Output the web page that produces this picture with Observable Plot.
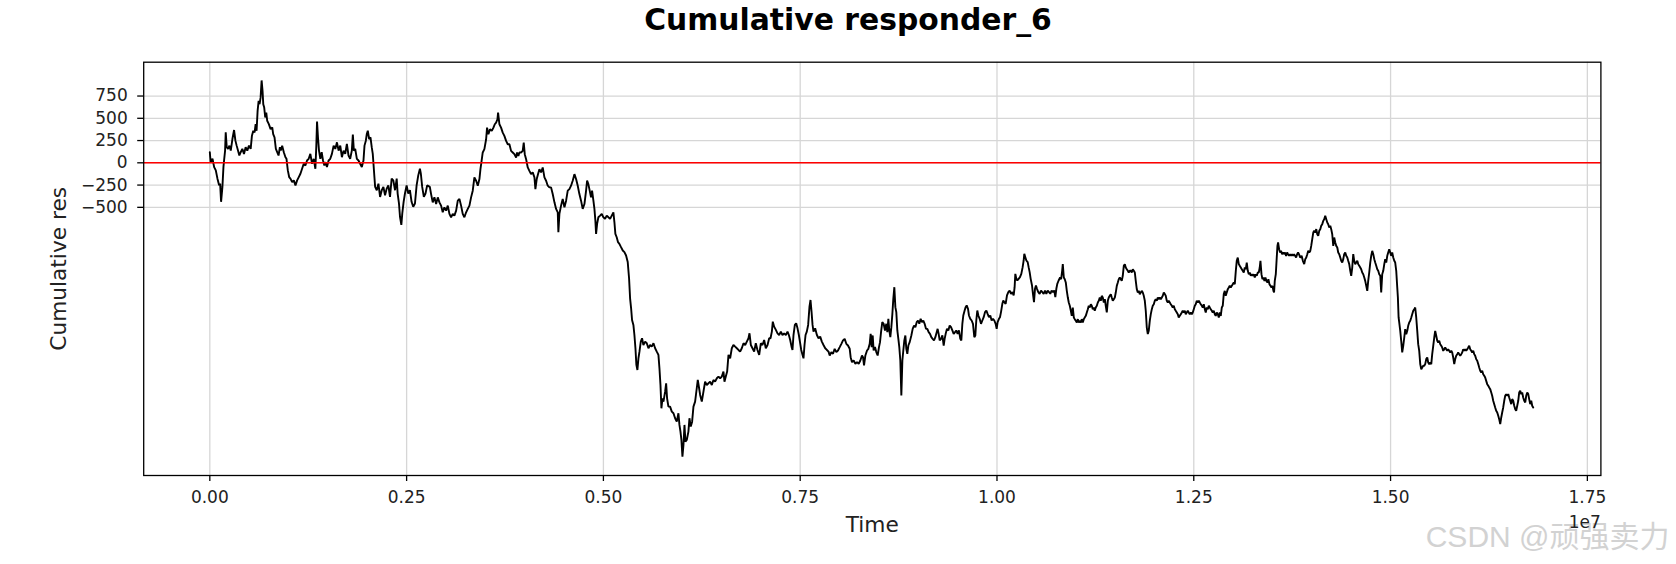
<!DOCTYPE html>
<html><head><meta charset="utf-8">
<script src="https://cdn.jsdelivr.net/npm/d3@7"></script>
<script src="https://cdn.jsdelivr.net/npm/@observablehq/plot@0.6"></script>
<style>
html,body{margin:0;padding:0;background:#fff;}
#title{width:1656px;padding-left:20px;height:40px;line-height:40px;text-align:center;font-weight:bold;font-size:29.8px;font-family:"DejaVu Sans";color:#000;white-space:nowrap;}
#chart svg{display:block;}
</style></head><body>
<div id="title">Cumulative responder_6</div>
<div id="chart"></div>
<script>
// Time in units of 1e7, cumulative responder_6 value
const points = [
[0.000,119],[0.001,7],[0.0034,45],[0.0055,-48],[0.0076,-85],[0.0097,-178],[0.0118,-253],[0.0131,-234],[0.0143,-438],[0.0160,-271],[0.0173,-48],[0.0181,26],[0.0194,137],[0.0202,342],[0.0215,175],[0.0232,156],[0.0249,193],[0.0266,137],[0.0287,267],[0.0308,368],[0.0325,249],[0.0341,193],[0.0358,137],[0.0375,82],[0.0392,119],[0.0413,156],[0.0434,100],[0.0455,175],[0.0476,137],[0.0497,193],[0.0519,156],[0.0535,305],[0.0552,360],[0.0569,342],[0.0582,435],[0.0594,360],[0.0607,583],[0.0620,695],[0.0632,658],[0.0645,732],[0.0658,925],[0.0670,806],[0.0679,658],[0.0691,620],[0.0704,509],[0.0717,565],[0.0729,472],[0.0750,435],[0.0772,379],[0.0793,398],[0.0805,323],[0.0822,286],[0.0839,156],[0.0856,119],[0.0873,82],[0.0890,175],[0.0902,137],[0.0919,193],[0.0940,119],[0.0961,63],[0.0974,45],[0.0991,-85],[0.1008,-160],[0.1024,-178],[0.1046,-215],[0.1067,-197],[0.1088,-253],[0.1109,-197],[0.1130,-160],[0.1151,-123],[0.1172,-67],[0.1193,-11],[0.1214,-30],[0.1235,26],[0.1256,45],[0.1277,100],[0.1299,-11],[0.1320,45],[0.1341,-67],[0.1353,193],[0.1362,464],[0.1374,286],[0.1387,137],[0.1404,45],[0.1421,119],[0.1438,26],[0.1455,-30],[0.1471,7],[0.1488,-48],[0.1509,26],[0.1530,45],[0.1551,100],[0.1573,193],[0.1594,156],[0.1615,230],[0.1636,137],[0.1657,193],[0.1678,63],[0.1699,137],[0.1720,100],[0.1741,212],[0.1762,82],[0.1783,45],[0.1804,137],[0.1817,316],[0.1830,137],[0.1847,156],[0.1868,45],[0.1889,26],[0.1910,-11],[0.1931,-48],[0.1952,26],[0.1965,193],[0.1982,249],[0.1994,323],[0.2007,360],[0.2024,267],[0.2041,286],[0.2057,175],[0.2070,100],[0.2079,-11],[0.2091,-160],[0.2100,-271],[0.2121,-308],[0.2142,-234],[0.2163,-383],[0.2184,-308],[0.2205,-271],[0.2226,-364],[0.2247,-290],[0.2268,-253],[0.2289,-383],[0.2310,-178],[0.2331,-197],[0.2353,-308],[0.2374,-178],[0.2386,-345],[0.2403,-457],[0.2416,-606],[0.2433,-698],[0.2445,-568],[0.2462,-438],[0.2479,-345],[0.2500,-253],[0.2521,-345],[0.2542,-308],[0.2563,-438],[0.2584,-494],[0.2606,-457],[0.2627,-253],[0.2648,-141],[0.2669,-67],[0.2681,-123],[0.2698,-271],[0.2719,-383],[0.2740,-345],[0.2761,-253],[0.2795,-271],
[0.2811,-351],[0.2832,-444],[0.2853,-388],[0.2875,-463],[0.2896,-388],[0.2917,-444],[0.2938,-481],[0.2959,-556],[0.2980,-500],[0.3002,-537],[0.3023,-481],[0.3044,-574],[0.3065,-612],[0.3086,-574],[0.3107,-593],[0.3129,-537],[0.3150,-425],[0.3171,-407],[0.3192,-481],[0.3213,-574],[0.3234,-612],[0.3256,-556],[0.3277,-518],[0.3298,-481],[0.3319,-388],[0.3340,-313],[0.3361,-164],[0.3383,-201],[0.3404,-257],[0.3425,-183],[0.3438,-71],[0.3450,4],[0.3467,116],[0.3488,153],[0.3510,265],[0.3522,395],[0.3539,321],[0.3560,377],[0.3582,358],[0.3603,395],[0.3620,433],[0.3637,451],[0.3654,489],[0.3662,563],[0.3679,433],[0.3700,395],[0.3721,339],[0.3742,302],[0.3764,246],[0.3785,209],[0.3806,209],[0.3827,134],[0.3848,116],[0.3869,97],[0.3891,60],[0.3903,116],[0.3920,78],[0.3933,116],[0.3954,116],[0.3975,134],[0.3988,228],[0.4001,97],[0.4018,41],[0.4039,-52],[0.4060,-90],[0.4081,-127],[0.4102,-108],[0.4124,-164],[0.4136,-295],[0.4153,-183],[0.4170,-127],[0.4187,-71],[0.4208,-108],[0.4229,-52],[0.4251,-164],[0.4272,-201],[0.4293,-257],[0.4314,-276],[0.4335,-276],[0.4356,-351],[0.4378,-444],[0.4399,-518],[0.4420,-556],[0.4428,-780],[0.4441,-574],[0.4462,-481],[0.4483,-407],[0.4505,-500],[0.4526,-425],[0.4547,-313],[0.4568,-295],[0.4589,-257],[0.4610,-201],[0.4632,-127],[0.4653,-183],[0.4674,-257],[0.4695,-351],[0.4716,-425],[0.4737,-518],[0.4759,-463],[0.4780,-313],[0.4793,-201],[0.4809,-239],[0.4822,-295],[0.4843,-388],[0.4856,-313],[0.4873,-425],[0.4886,-518],[0.4898,-649],[0.4907,-798],[0.4920,-686],[0.4936,-612],[0.4958,-593],[0.4979,-574],[0.5000,-612],[0.5021,-630],[0.5042,-593],[0.5064,-612],[0.5085,-630],[0.5106,-593],[0.5127,-556],[0.5140,-668],[0.5152,-798],[0.5169,-836],[0.5186,-891],[0.5203,-910],[0.5224,-947],[0.5246,-985],[0.5267,-1003],[0.5288,-1041],[0.5309,-1115],
[0.5326,-1297],[0.5339,-1522],[0.5352,-1634],[0.5364,-1765],[0.5381,-1821],[0.5394,-1934],[0.5407,-2083],[0.5419,-2270],[0.5432,-2327],[0.5445,-2196],[0.5458,-2121],[0.5475,-2008],[0.5491,-1971],[0.5508,-2046],[0.5530,-2008],[0.5551,-2027],[0.5572,-2083],[0.5593,-2046],[0.5614,-2065],[0.5636,-2027],[0.5657,-2083],[0.5678,-2121],[0.5699,-2158],[0.5712,-2308],[0.5725,-2495],[0.5737,-2757],[0.5750,-2645],[0.5763,-2682],[0.5784,-2570],[0.5797,-2476],[0.5809,-2645],[0.5826,-2738],[0.5847,-2738],[0.5869,-2794],[0.5890,-2813],[0.5911,-2869],[0.5932,-2907],[0.5953,-2813],[0.5966,-2944],[0.5979,-3019],[0.5991,-3113],[0.6004,-3300],[0.6017,-3169],[0.6030,-2944],[0.6042,-3131],[0.6059,-3113],[0.6080,-3019],[0.6093,-2869],[0.6110,-2963],[0.6127,-2907],[0.6144,-2738],[0.6165,-2682],[0.6186,-2532],[0.6199,-2439],[0.6216,-2532],[0.6229,-2607],[0.6250,-2682],[0.6271,-2570],[0.6292,-2458],[0.6313,-2495],[0.6335,-2476],[0.6356,-2458],[0.6377,-2495],[0.6398,-2439],[0.6419,-2458],[0.6441,-2420],[0.6462,-2401],[0.6483,-2420],[0.6504,-2401],[0.6525,-2345],[0.6538,-2458],[0.6555,-2401],[0.6572,-2345],[0.6589,-2158],[0.6610,-2196],[0.6631,-2083],[0.6652,-2046],[0.6674,-2065],[0.6695,-2083],[0.6716,-2102],[0.6737,-2121],[0.6758,-2083],[0.6780,-2027],[0.6801,-2046],[0.6822,-2008],[0.6843,-1971],[0.6856,-1915],[0.6873,-2046],[0.6894,-2083],[0.6915,-2121],[0.6936,-2027],[0.6957,-2102],[0.6979,-2158],[0.7000,-2027],[0.7021,-2046],[0.7042,-1990],[0.7063,-2083],[0.7085,-2046],[0.7106,-1971],[0.7123,-1971],[0.7140,-1896],[0.7152,-1784],[0.7169,-1840],[0.7191,-1877],[0.7212,-1915],[0.7233,-1934],[0.7254,-1896],[0.7275,-1934],[0.7296,-1915],[0.7318,-1934],[0.7339,-1896],[0.7356,-1934],[0.7373,-1990],[0.7390,-2065],[0.7402,-2102],[0.7415,-1934],[0.7432,-1821],[0.7449,-1803],[0.7466,-1859],[0.7483,-1934],[0.7500,-2027],[0.7513,-2102],[0.7530,-2158],[0.7542,-2196],[0.7555,-2046],[0.7568,-1934],[0.7584,-1896],[0.7601,-1821],[0.7618,-1615],[0.7631,-1541],[0.7644,-1672],[0.7657,-1821],[0.7669,-1896],[0.7690,-1859],[0.7712,-1934],[0.7733,-1971],[0.7754,-1952],[0.7775,-2008],[0.7796,-2046],[0.7818,-2083],[0.7839,-2102],[0.7860,-2121],
[0.7875,-2164],[0.7896,-2126],[0.7917,-2145],[0.7938,-2089],[0.7959,-2126],[0.7980,-2108],[0.8002,-2070],[0.8023,-2033],[0.8044,-1995],[0.8065,-1977],[0.8086,-2033],[0.8107,-2052],[0.8129,-2089],[0.8141,-2183],[0.8158,-2239],[0.8179,-2220],[0.8201,-2257],[0.8222,-2239],[0.8243,-2257],[0.8264,-2220],[0.8285,-2164],[0.8298,-2183],[0.8311,-2276],[0.8328,-2164],[0.8349,-2108],[0.8366,-2089],[0.8383,-2033],[0.8395,-1921],[0.8408,-2070],[0.8421,-1939],[0.8433,-2108],[0.8450,-2070],[0.8467,-2126],[0.8484,-2164],[0.8501,-2070],[0.8514,-2014],[0.8527,-1902],[0.8543,-1790],[0.8560,-1808],[0.8577,-1883],[0.8594,-1808],[0.8607,-1902],[0.8620,-1752],[0.8632,-1883],[0.8645,-1958],[0.8658,-1846],[0.8671,-1696],[0.8683,-1528],[0.8696,-1397],[0.8709,-1621],[0.8721,-1677],[0.8734,-1883],[0.8747,-1977],[0.8759,-2070],[0.8772,-2220],[0.8785,-2613],[0.8798,-2220],[0.8810,-2108],[0.8823,-1995],[0.8836,-1939],[0.8848,-2089],[0.8861,-2145],[0.8874,-2052],[0.8891,-2014],[0.8912,-1939],[0.8929,-1865],[0.8946,-1827],[0.8963,-1846],[0.8980,-1790],[0.8997,-1771],[0.9013,-1808],[0.9030,-1752],[0.9047,-1790],[0.9064,-1771],[0.9081,-1808],[0.9098,-1865],[0.9115,-1865],[0.9132,-1902],[0.9149,-1921],[0.9166,-1958],[0.9183,-1977],[0.9200,-1995],[0.9217,-1958],[0.9234,-1902],[0.9246,-1865],[0.9259,-1921],[0.9272,-1995],[0.9289,-1977],[0.9306,-1939],[0.9323,-2052],[0.9335,-1977],[0.9348,-1921],[0.9365,-1865],[0.9382,-1883],[0.9399,-1827],[0.9416,-1846],[0.9433,-1883],[0.9450,-1921],[0.9467,-1902],[0.9483,-1883],[0.9500,-1921],[0.9517,-1883],[0.9534,-1977],[0.9547,-1995],[0.9560,-1808],[0.9572,-1715],[0.9589,-1659],[0.9602,-1621],[0.9615,-1602],[0.9632,-1640],[0.9644,-1715],[0.9661,-1752],[0.9678,-1771],[0.9695,-1808],[0.9712,-1958],[0.9725,-1939],[0.9737,-1771],[0.9750,-1659],[0.9763,-1715],[0.9780,-1752],[0.9797,-1808],[0.9814,-1771],[0.9831,-1734],[0.9848,-1677],[0.9865,-1659],[0.9881,-1696],[0.9898,-1734],[0.9915,-1715],[0.9932,-1771],[0.9949,-1752],[0.9966,-1771],[0.9983,-1808],[0.9996,-1865],[1.0008,-1790],[1.0025,-1752],[1.0038,-1734],[1.0051,-1677],[1.0068,-1584],[1.0080,-1546],[1.0093,-1565],[1.0110,-1584],[1.0127,-1490],[1.0144,-1453],[1.0161,-1434],[1.0178,-1471],[1.0195,-1453],[1.0212,-1490],[1.0224,-1397],[1.0233,-1247],[1.0246,-1303],[1.0258,-1322],[1.0275,-1303],[1.0292,-1284],[1.0309,-1247],[1.0326,-1172],[1.0339,-1097],[1.0347,-1022],[1.0360,-1060],[1.0373,-1097],[1.0390,-1116],[1.0402,-1172],[1.0415,-1228],[1.0428,-1303],[1.0445,-1378],[1.0457,-1471],[1.0470,-1565],[1.0483,-1415],[1.0495,-1378],[1.0508,-1415],[1.0525,-1453],[1.0542,-1471],[1.0559,-1434],[1.0576,-1453],[1.0593,-1471],[1.0610,-1434],[1.0627,-1471],[1.0644,-1434],[1.0661,-1453],[1.0677,-1471],[1.0694,-1434],[1.0711,-1453],[1.0728,-1434],[1.0741,-1509],[1.0754,-1415],[1.0766,-1359],[1.0783,-1322],
[1.0802,-1288],[1.0815,-1307],[1.0828,-1213],[1.0836,-1138],[1.0849,-1288],[1.0861,-1307],[1.0874,-1344],[1.0887,-1438],[1.0900,-1513],[1.0912,-1569],[1.0925,-1606],[1.0938,-1662],[1.0950,-1719],[1.0963,-1625],[1.0976,-1737],[1.0988,-1756],[1.1001,-1775],[1.1014,-1793],[1.1027,-1756],[1.1039,-1793],[1.1052,-1775],[1.1065,-1793],[1.1077,-1756],[1.1090,-1793],[1.1103,-1756],[1.1115,-1737],[1.1128,-1719],[1.1141,-1681],[1.1154,-1644],[1.1166,-1606],[1.1179,-1625],[1.1192,-1588],[1.1204,-1606],[1.1217,-1644],[1.1230,-1625],[1.1242,-1662],[1.1255,-1625],[1.1268,-1606],[1.1281,-1569],[1.1293,-1550],[1.1306,-1513],[1.1319,-1550],[1.1331,-1494],[1.1344,-1513],[1.1357,-1569],[1.1370,-1532],[1.1382,-1606],[1.1395,-1681],[1.1408,-1550],[1.1420,-1513],[1.1433,-1494],[1.1446,-1475],[1.1458,-1513],[1.1471,-1550],[1.1484,-1532],[1.1497,-1513],[1.1509,-1457],[1.1522,-1382],[1.1535,-1344],[1.1547,-1307],[1.1560,-1288],[1.1573,-1307],[1.1585,-1326],[1.1598,-1269],[1.1611,-1157],[1.1624,-1138],[1.1636,-1176],[1.1649,-1195],[1.1662,-1213],[1.1674,-1232],[1.1687,-1213],[1.1700,-1213],[1.1712,-1232],[1.1725,-1195],[1.1738,-1213],[1.1751,-1232],[1.1763,-1326],[1.1776,-1419],[1.1789,-1457],[1.1801,-1438],[1.1814,-1475],[1.1827,-1457],[1.1839,-1438],[1.1852,-1457],[1.1865,-1494],[1.1878,-1550],[1.1890,-1662],[1.1903,-1850],[1.1916,-1924],[1.1928,-1887],[1.1941,-1775],[1.1954,-1700],[1.1967,-1644],[1.1979,-1606],[1.1992,-1588],[1.2005,-1550],[1.2017,-1532],[1.2030,-1550],[1.2043,-1513],[1.2055,-1532],[1.2068,-1513],[1.2081,-1532],[1.2094,-1513],[1.2106,-1494],[1.2119,-1457],[1.2132,-1475],[1.2144,-1494],[1.2157,-1550],[1.2170,-1569],[1.2182,-1550],[1.2195,-1569],[1.2208,-1588],[1.2221,-1606],[1.2233,-1625],[1.2246,-1606],[1.2259,-1644],[1.2271,-1662],[1.2284,-1681],[1.2297,-1700],[1.2309,-1737],[1.2322,-1719],[1.2335,-1700],[1.2348,-1681],[1.2360,-1662],[1.2373,-1681],[1.2386,-1662],[1.2398,-1700],[1.2411,-1681],[1.2424,-1662],[1.2436,-1681],[1.2449,-1700],[1.2462,-1681],[1.2475,-1700],[1.2487,-1681],[1.2500,-1644],[1.2513,-1606],[1.2525,-1588],[1.2538,-1550],[1.2551,-1569],[1.2564,-1550],[1.2576,-1569],[1.2589,-1588],[1.2602,-1606],[1.2614,-1625],[1.2627,-1588],[1.2640,-1644],[1.2652,-1681],[1.2665,-1625],[1.2678,-1644],[1.2691,-1606],[1.2703,-1625],[1.2716,-1644],[1.2729,-1662],[1.2741,-1681],[1.2754,-1662],[1.2767,-1700],[1.2779,-1719],[1.2792,-1681],[1.2805,-1700],[1.2818,-1737],[1.2830,-1681],[1.2843,-1719],[1.2856,-1625],[1.2868,-1606],[1.2881,-1475],[1.2894,-1438],[1.2906,-1494],[1.2919,-1457],[1.2932,-1419],[1.2945,-1400],[1.2957,-1382],[1.2970,-1400],[1.2983,-1382],[1.2995,-1363],[1.3008,-1344],[1.3021,-1363],[1.3034,-1213],[1.3046,-1101],[1.3059,-1064],[1.3072,-1138],[1.3084,-1157],[1.3097,-1176],[1.3110,-1195],[1.3122,-1213],[1.3135,-1232],[1.3148,-1176],[1.3161,-1195],[1.3173,-1120],[1.3186,-1213],[1.3199,-1251],[1.3211,-1232],[1.3224,-1269],[1.3237,-1251],[1.3249,-1269],[1.3262,-1251],[1.3275,-1288],[1.3288,-1251],[1.3300,-1269],[1.3313,-1232],[1.3326,-1232],[1.3338,-1176],[1.3347,-1101],[1.3360,-1251],[1.3372,-1307],[1.3385,-1288],[1.3398,-1326],[1.3410,-1288],[1.3423,-1326],[1.3436,-1344],[1.3448,-1307],[1.3461,-1363],[1.3474,-1382],[1.3487,-1400],[1.3499,-1382],[1.3512,-1438],[1.3520,-1457],[1.3529,-1326],[1.3542,-1251],[1.3554,-1064],[1.3563,-933],[1.3571,-895],[1.3584,-970],[1.3597,-1007],[1.3609,-989],[1.3622,-1026],[1.3635,-1007],[1.3647,-1026],[1.3660,-1007],[1.3673,-1045],[1.3686,-1007],[1.3698,-1026],[1.3711,-1045],[1.3724,-1026],[1.3736,-1045],[1.3749,-1026],[1.3762,-1045],[1.3775,-1026],[1.3787,-1045],[1.3800,-1064],[1.3813,-1026],[1.3825,-1007],
[1.3836,-1026],[1.3853,-1064],[1.3870,-1045],[1.3886,-1101],[1.3903,-1138],[1.3916,-1082],[1.3929,-1064],[1.3942,-1026],[1.3954,-989],[1.3967,-1007],[1.3980,-989],[1.3992,-933],[1.4005,-858],[1.4018,-783],[1.4030,-764],[1.4043,-783],[1.4056,-745],[1.4069,-802],[1.4081,-820],[1.4094,-764],[1.4107,-745],[1.4119,-708],[1.4132,-689],[1.4145,-652],[1.4157,-633],[1.4170,-596],[1.4183,-633],[1.4196,-671],[1.4208,-689],[1.4221,-727],[1.4234,-708],[1.4246,-745],[1.4259,-802],[1.4272,-933],[1.4284,-839],[1.4297,-895],[1.4310,-933],[1.4323,-951],[1.4335,-1007],[1.4348,-1026],[1.4361,-1064],[1.4373,-1101],[1.4386,-1120],[1.4399,-1082],[1.4411,-1026],[1.4424,-1007],[1.4437,-1045],[1.4450,-1064],[1.4462,-1101],[1.4475,-1138],[1.4488,-1213],[1.4500,-1269],[1.4513,-1176],[1.4526,-1026],[1.4538,-1101],[1.4551,-1138],[1.4564,-1120],[1.4577,-1101],[1.4589,-1138],[1.4602,-1157],[1.4615,-1176],[1.4627,-1195],[1.4640,-1232],[1.4653,-1251],[1.4666,-1288],[1.4678,-1326],[1.4691,-1382],[1.4704,-1438],[1.4716,-1326],[1.4729,-1232],[1.4742,-1120],[1.4754,-1045],[1.4767,-989],[1.4780,-1026],[1.4793,-1082],[1.4805,-1120],[1.4818,-1157],[1.4831,-1195],[1.4843,-1213],[1.4856,-1251],[1.4869,-1269],[1.4881,-1457],[1.4894,-1251],[1.4907,-1213],[1.4920,-1138],[1.4932,-1082],[1.4945,-1120],[1.4958,-1045],[1.4970,-1007],[1.4983,-970],[1.4996,-1007],[1.5008,-1045],[1.5021,-1007],[1.5034,-1064],[1.5047,-1101],[1.5059,-1120],[1.5072,-1213],[1.5085,-1400],[1.5093,-1513],[1.5102,-1737],[1.5110,-1793],[1.5123,-1887],[1.5135,-1999],[1.5148,-2130],[1.5161,-2055],[1.5174,-1962],[1.5186,-1868],[1.5199,-1924],[1.5212,-1887],[1.5224,-1831],[1.5237,-1793],[1.5250,-1775],[1.5263,-1737],[1.5275,-1700],[1.5288,-1662],[1.5301,-1644],[1.5313,-1625],[1.5326,-1737],[1.5339,-1887],[1.5351,-2037],[1.5364,-2112],[1.5377,-2261],[1.5390,-2318],[1.5402,-2299],[1.5415,-2280],[1.5428,-2280],[1.5440,-2261],[1.5453,-2205],[1.5466,-2187],[1.5478,-2243],[1.5491,-2261],[1.5504,-2243],[1.5517,-2261],[1.5529,-2149],[1.5542,-2055],[1.5555,-1962],[1.5567,-1887],[1.5580,-1943],[1.5593,-1999],[1.5605,-2018],[1.5618,-1999],[1.5631,-2037],[1.5644,-2055],[1.5656,-2074],[1.5669,-2112],[1.5682,-2093],[1.5694,-2074],[1.5707,-2093],[1.5720,-2112],[1.5732,-2093],[1.5745,-2112],[1.5758,-2130],[1.5771,-2112],[1.5783,-2130],[1.5796,-2187],[1.5809,-2261],[1.5821,-2205],[1.5834,-2168],[1.5847,-2149],[1.5859,-2130],[1.5872,-2149],[1.5885,-2168],[1.5898,-2149],[1.5910,-2130],[1.5923,-2093],[1.5936,-2112],[1.5948,-2093],[1.5961,-2112],[1.5974,-2093],[1.5987,-2074],[1.5999,-2055],[1.6012,-2093],[1.6025,-2112],[1.6037,-2130],[1.6050,-2112],[1.6063,-2149],[1.6075,-2168],[1.6088,-2205],[1.6101,-2224],[1.6114,-2261],[1.6126,-2299],[1.6139,-2336],[1.6152,-2355],[1.6164,-2336],[1.6177,-2374],[1.6190,-2392],[1.6202,-2411],[1.6215,-2449],[1.6228,-2486],[1.6241,-2505],[1.6253,-2523],[1.6266,-2542],[1.6279,-2580],[1.6291,-2617],[1.6304,-2673],[1.6317,-2711],[1.6329,-2748],[1.6342,-2785],[1.6355,-2804],[1.6368,-2842],[1.6380,-2879],[1.6393,-2935],[1.6406,-2860],[1.6418,-2804],[1.6431,-2748],[1.6444,-2673],[1.6456,-2617],[1.6469,-2598],[1.6482,-2617],[1.6495,-2598],[1.6507,-2636],[1.6520,-2673],[1.6533,-2711],[1.6545,-2654],[1.6558,-2673],[1.6571,-2729],[1.6584,-2767],[1.6596,-2785],[1.6609,-2729],[1.6622,-2673],[1.6634,-2580],[1.6647,-2561],[1.6660,-2598],[1.6672,-2580],[1.6685,-2636],[1.6698,-2673],[1.6711,-2692],[1.6723,-2617],[1.6736,-2580],[1.6749,-2598],[1.6761,-2654],[1.6774,-2711],[1.6787,-2673],[1.6799,-2729],[1.6812,-2748]
];
const xTickValues = [0, 0.25, 0.5, 0.75, 1.0, 1.25, 1.5, 1.75];
const yTickValues = [-500, -250, 0, 250, 500, 750];
const titleText = "Cumulative responder_6";
const xLabel = "Time";
const yLabel = "Cumulative res";
const offsetLabel = "1e7";
const watermark = "CSDN @顽强卖力";

const data = points.map(([t, v]) => ({t, v}));
const fmtY = d => d < 0 ? "\u2212" + Math.abs(d) : String(d);

const chart = Plot.plot({
  width: 1676,
  height: 524,
  marginTop: 21.7,
  marginBottom: 89,
  marginLeft: 143.2,
  marginRight: 75.6,
  style: {fontFamily: "DejaVu Sans", fontSize: "17px", color: "#000", background: "#fff", overflow: "visible"},
  x: {domain: [-0.084, 1.7672]},
  y: {domain: [-3512, 1130]},
  marks: [
    Plot.gridX(xTickValues, {stroke: "#d6d6d6", strokeOpacity: 1, strokeWidth: 1.3}),
    Plot.gridY(yTickValues, {stroke: "#d6d6d6", strokeOpacity: 1, strokeWidth: 1.3}),
    Plot.line(data, {x: "t", y: "v", stroke: "#000", strokeWidth: 1.9, strokeLinejoin: "miter"}),
    Plot.ruleY([0], {stroke: "#ff0000", strokeWidth: 1.4}),
    Plot.frame({stroke: "#000", strokeWidth: 1.3}),
    Plot.axisX(xTickValues, {tickFormat: d => d.toFixed(2), tickSize: 6, tickPadding: 9, strokeWidth: 1.3, label: null, fill: "#222"}),
    Plot.axisY(yTickValues, {tickFormat: fmtY, tickSize: 6, tickPadding: 10, strokeWidth: 1.3, label: null, fill: "#222"}),
    Plot.text([xLabel], {frameAnchor: "bottom", text: d => d, lineAnchor: "middle", dy: 50, fontSize: 21.7, fill: "#222"}),
    Plot.text([yLabel], {frameAnchor: "left", text: d => d, rotate: -90, textAnchor: "middle", lineAnchor: "middle", dx: -85, fontSize: 21.7, fill: "#222"}),
    Plot.text([watermark], {frameAnchor: "bottom-right", text: d => d, textAnchor: "end", lineAnchor: "bottom", dx: 68.6, dy: 71, fontSize: 30, fill: "#d2d2d2", fontFamily: "Liberation Sans, Noto Sans CJK SC"}),
    Plot.text([offsetLabel], {frameAnchor: "bottom-right", text: d => d, textAnchor: "end", lineAnchor: "middle", dy: 47, fontSize: 17, fill: "#222"})
  ]
});
document.getElementById("chart").appendChild(chart);
document.getElementById("title").textContent = titleText;
</script>
</body></html>
